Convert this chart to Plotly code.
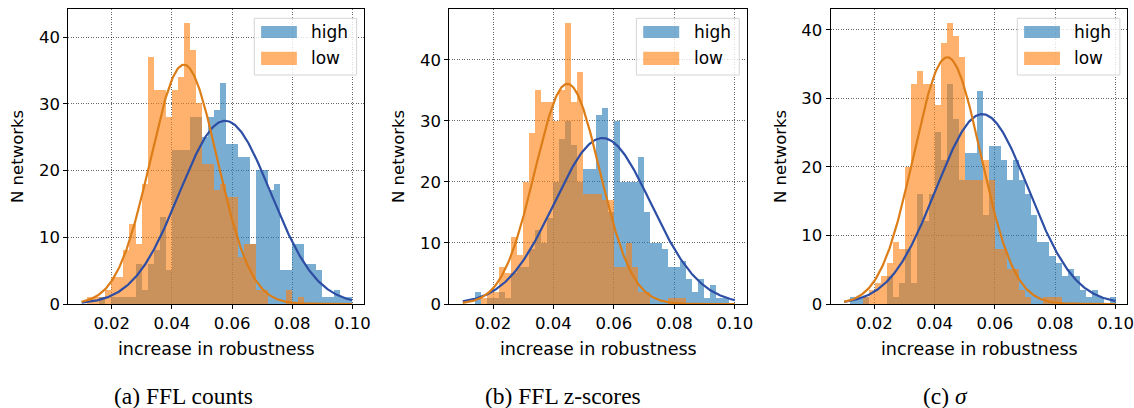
import numpy as np
import plotly.graph_objects as go

# ---------------- data ----------------
bin_start = 0.010
bin_width = 0.002
n_bins = 45
bin_centers = [round(bin_start + bin_width * (i + 0.5), 4) for i in range(n_bins)]

p1_high = [0,0,0,1,0,1,1,1,1,6, 2,6,8,13,5,23,23,23,28,28, 25,28,29,33,24,24,22,22,9,20, 20,17,18,5,5,9,9,6,6,5, 1,1,2,1,1]
p1_low  = [0,1,1,1,2,4,4,8,12,9, 18,37,32,32,28,32,34,42,38,30, 21,21,17,18,16,16,7,9,9,2, 2,0,0,0,2,0,1,0,0,0, 0,0,0,0,0]

p2_high = [0,0,2,0,1,1,2,1,5,6, 6,9,12,10,14,20,27,30,26,20, 22,22,31,32,15,30,20,20,20,24, 15,10,10,9,6,6,7,4,2,4, 1,3,1,1,0]
p2_low  = [0,0,0,1,2,2,6,5,11,8, 20,28,35,33,33,30,35,46,33,38, 18,18,18,17,17,6,6,10,6,2, 2,0,0,0,1,1,1,0,0,0, 0,0,0,0,0]

p3_high = [0,1,1,1,0,0,0,4,1,3, 8,3,16,12,16,25,21,32,27,18, 22,22,31,13,23,23,21,18,21,18, 16,13,9,9,7,6,4,5,4,2, 1,2,1,0,1]
p3_low  = [0,0,0,1,2,3,4,6,9,8, 20,32,34,32,32,29,38,41,39,36, 18,18,18,21,18,8,8,5,5,2, 1,0,0,1,1,1,0,0,0,0, 0,0,0,0,0]

# fitted normal curves: (mean, std, peak height)
p1_high_fit = (0.0577, 0.0152, 27.45)
p1_low_fit  = (0.0440, 0.0111, 35.85)
p2_high_fit = (0.0562, 0.0160, 27.2)
p2_low_fit  = (0.0446, 0.0107, 36.1)
p3_high_fit = (0.0558, 0.0153, 27.7)
p3_low_fit  = (0.0442, 0.0111, 36.0)

curve_range = (0.010, 0.100)
captions = ["(a) FFL counts", "(b) FFL z-scores", "(c) <i>σ</i>"]
series_names = ["high", "low"]
x_ticks = [0.02, 0.04, 0.06, 0.08, 0.10]
x_tick_text = ["0.02", "0.04", "0.06", "0.08", "0.10"]
y_ticks = [0, 10, 20, 30, 40]
y_max = [44.15, 48.3, 43.0]

panels = [
    (p1_high, p1_low, p1_high_fit, p1_low_fit),
    (p2_high, p2_low, p2_high_fit, p2_low_fit),
    (p3_high, p3_low, p3_high_fit, p3_low_fit),
]

# ---------------- style ----------------
W, H = 1134, 408
blue_fill = "rgba(31,119,180,0.6)"
orange_fill = "rgba(255,127,14,0.6)"
blue_line = "#2d4ea4"
orange_line = "#dc7d18"
tick_font = dict(family="DejaVu Sans", size=16.5, color="black")

x_px = [(68.3, 364.0), (449.3, 746.7), (830.7, 1127.3)]
y_px = (9.3, 304.0)
ylab_px = [17, 398, 780]
cap_px = [183, 563, 945]

fig = go.Figure()

for k, (hi, lo, hfit, lfit) in enumerate(panels):
    xa = "x" if k == 0 else f"x{k+1}"
    ya = "y" if k == 0 else f"y{k+1}"
    fig.add_trace(go.Bar(x=bin_centers, y=hi, width=bin_width, marker=dict(color=blue_fill, line=dict(width=0)),
                         name=series_names[0], showlegend=False, xaxis=xa, yaxis=ya))
    fig.add_trace(go.Bar(x=bin_centers, y=lo, width=bin_width, marker=dict(color=orange_fill, line=dict(width=0)),
                         name=series_names[1], showlegend=False, xaxis=xa, yaxis=ya))
    xs = np.linspace(curve_range[0], curve_range[1], 300)
    for (mu, sd, pk), col in ((hfit, blue_line), (lfit, orange_line)):
        ys = pk * np.exp(-((xs - mu) ** 2) / (2 * sd ** 2))
        fig.add_trace(go.Scatter(x=xs, y=ys, mode="lines", line=dict(color=col, width=2.2),
                                 showlegend=False, hoverinfo="skip", xaxis=xa, yaxis=ya))

    axis_common = dict(showline=True, linecolor="black", linewidth=1.1, mirror=True,
                       ticks="outside", ticklen=4, tickwidth=1, tickcolor="black",
                       showgrid=True, gridcolor="rgba(0,0,0,0.6)", griddash="1px,1.5px", gridwidth=0.8,
                       zeroline=False, tickfont=tick_font, automargin=False)
    x0, x1 = x_px[k]
    fig.update_layout(**{
        ("xaxis" if k == 0 else f"xaxis{k+1}"): dict(
            domain=[x0 / W, x1 / W], range=[0.00555, 0.1039], anchor=ya,
            tickvals=x_ticks, ticktext=x_tick_text, **axis_common),
        ("yaxis" if k == 0 else f"yaxis{k+1}"): dict(
            domain=[1 - y_px[1] / H, 1 - y_px[0] / H], range=[0, y_max[k]], anchor=xa,
            tickvals=y_ticks, **axis_common),
    })

    # legend box (manual, matplotlib-like)
    xd, yd = f"{xa} domain", f"{ya} domain"
    fig.add_shape(type="rect", xref=xd, yref=yd, x0=0.629, x1=0.975, y0=0.777, y1=0.9694,
                  line=dict(color="#d5d5d5", width=1), fillcolor="rgba(255,255,255,0.8)", layer="above")
    fig.add_shape(type="rect", xref=xd, yref=yd, x0=0.652, x1=0.773, y0=0.903, y1=0.943,
                  line=dict(width=0), fillcolor=blue_fill, layer="above")
    fig.add_shape(type="rect", xref=xd, yref=yd, x0=0.652, x1=0.773, y0=0.811, y1=0.856,
                  line=dict(width=0), fillcolor=orange_fill, layer="above")
    for name, yy in zip(series_names, (0.923, 0.834)):
        fig.add_annotation(xref=xd, yref=yd, x=0.815, y=yy, text=name, showarrow=False,
                           xanchor="left", yanchor="middle",
                           font=dict(family="DejaVu Sans", size=17, color="black"))

    # axis labels
    fig.add_annotation(xref="paper", yref="paper", x=(x0 + x1) / 2 / W, y=1 - 349 / H,
                       text="increase in robustness", showarrow=False, xanchor="center", yanchor="middle",
                       font=dict(family="DejaVu Sans", size=17.5, color="black"))
    fig.add_annotation(xref="paper", yref="paper", x=ylab_px[k] / W, y=1 - 157 / H,
                       text="N networks", textangle=-90, showarrow=False, xanchor="center", yanchor="middle",
                       font=dict(family="DejaVu Sans", size=16.5, color="black"))
    fig.add_annotation(xref="paper", yref="paper", x=cap_px[k] / W, y=1 - 396 / H,
                       text=captions[k], showarrow=False, xanchor="center", yanchor="middle",
                       font=dict(family="Liberation Serif", size=23.5, color="black"))

fig.update_layout(width=W, height=H, margin=dict(l=0, r=0, t=0, b=0, autoexpand=False),
                  paper_bgcolor="white", plot_bgcolor="white", barmode="overlay", bargap=0,
                  showlegend=False)

fig.write_html("out.html", config={"displayModeBar": False},
               post_script="document.body.style.margin='0';")
